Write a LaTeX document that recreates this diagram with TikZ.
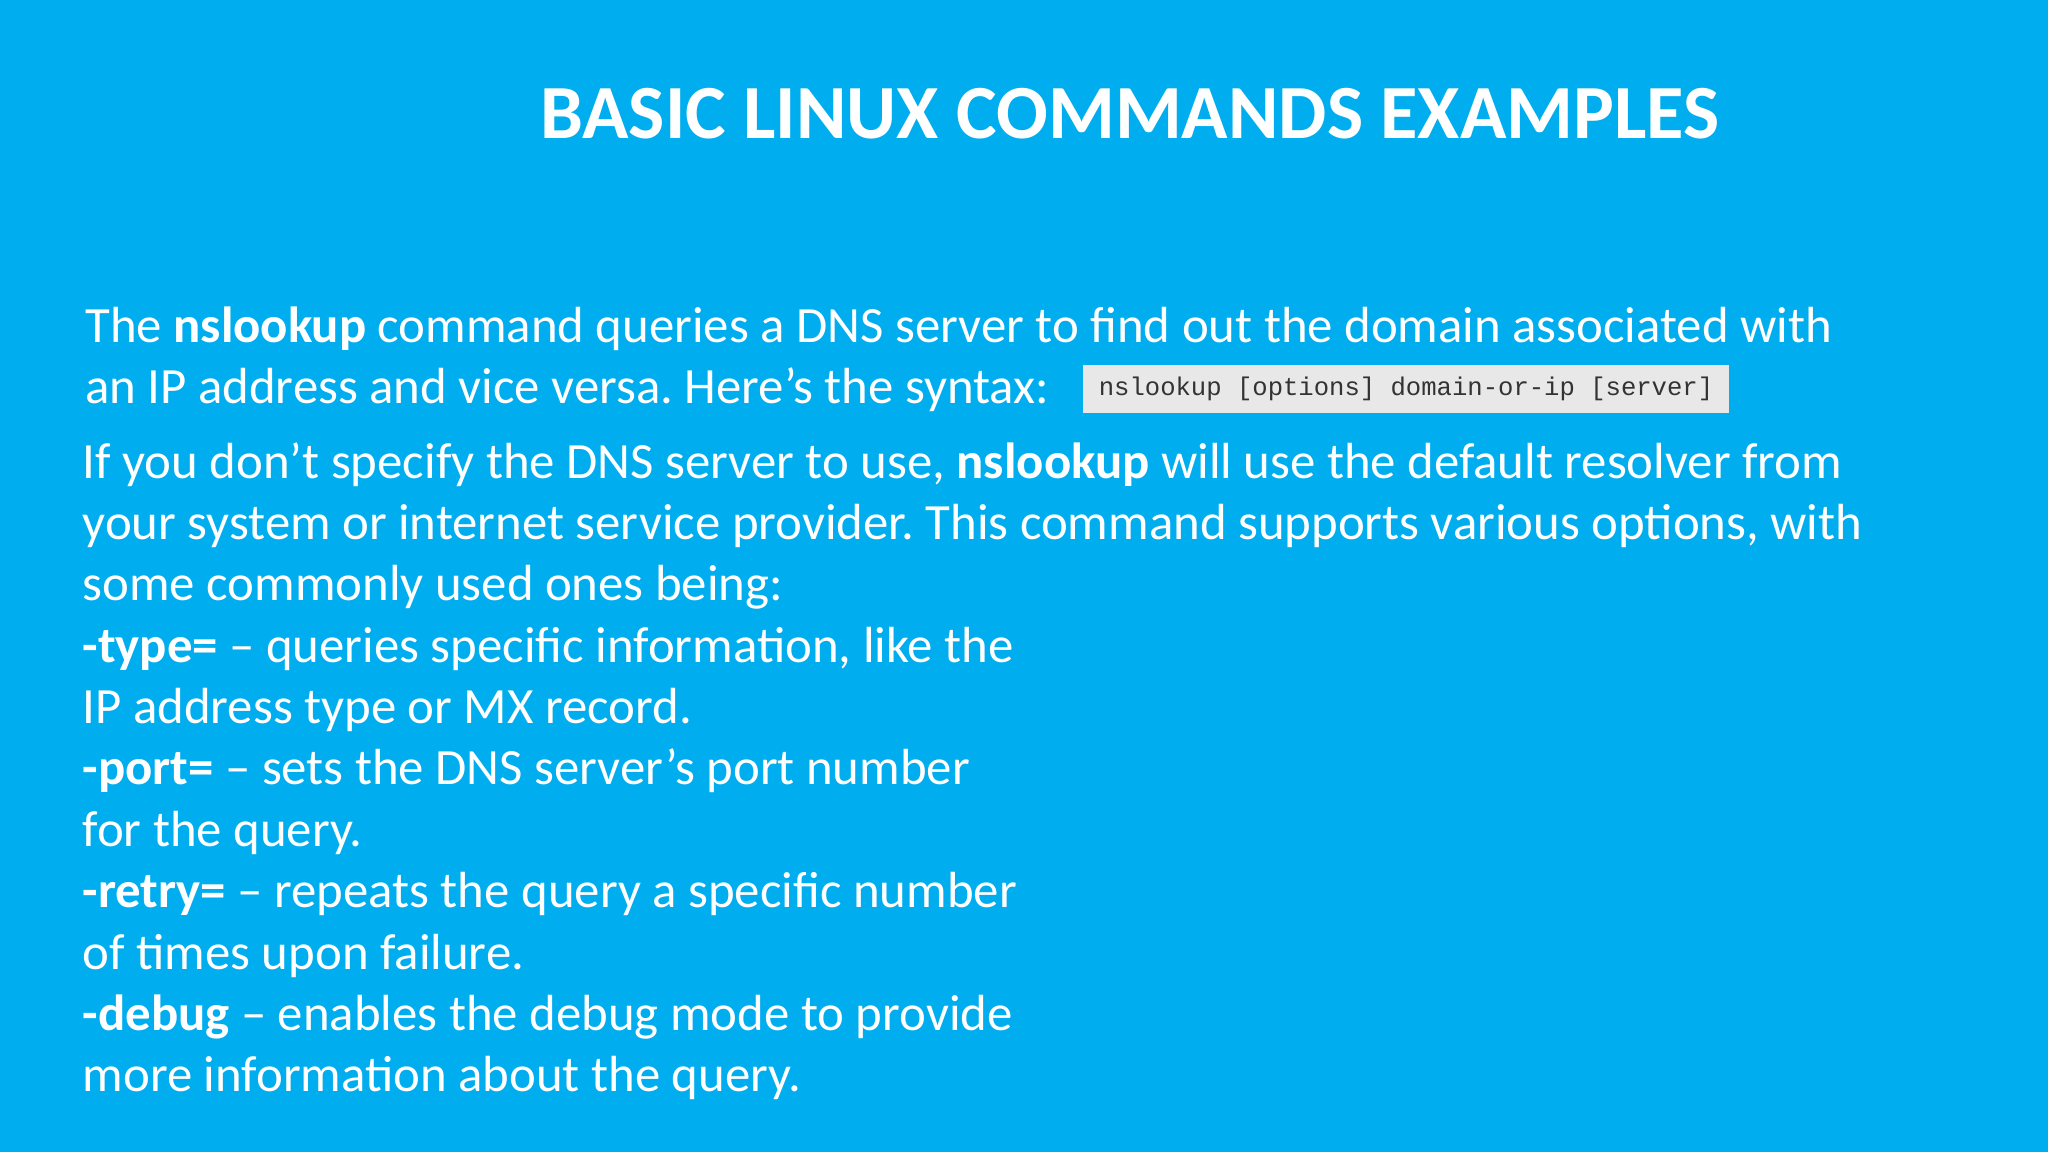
\documentclass[tikz,border=0pt]{standalone}
\usepackage{fontspec}
\setmainfont{Carlito}
\setmonofont{Liberation Mono}
\frenchspacing
\definecolor{bg}{HTML}{00AEEF}
\definecolor{codebg}{HTML}{E8E8E8}
\begin{document}
\begin{tikzpicture}[x=0.6531pt,y=-0.6531pt,
  ln/.style={anchor=base west,inner sep=0pt,text=white,font=\fontsize{25.4}{30}\selectfont}]
\fill[bg] (0,0) rectangle (1568,882);
\useasboundingbox (0,0) rectangle (1568,882);
\node[anchor=base,text=white,font=\fontsize{38.3}{46}\selectfont\bfseries] (title) at (865,106) {BASIC LINUX COMMANDS EXAMPLES};
\node[ln] (l1) at (65,262) {The \textbf{nslookup} command queries a DNS server to find out the domain associated with};
\node[ln] (l2) at (65,309) {an IP address and vice versa. Here’s the syntax:};
\node[fill=codebg,minimum width=494*0.6531pt,minimum height=37*0.6531pt,inner sep=0pt,font=\fontsize{12.8}{14}\ttfamily,text=black!80] (code) at (1076.5,298) {nslookup [options] domain-or-ip [server]};
\node[ln] (l3) at (63,366) {If you don’t specify the DNS server to use, \textbf{nslookup} will use the default resolver from};
\node[ln] (l4) at (63,413) {your system or internet service provider. This command supports various options, with};
\node[ln] (l5) at (63,460) {some commonly used ones being:};
\node[ln] (l6) at (63,507) {\textbf{-type=} – queries specific information, like the};
\node[ln] (l7) at (63,554) {IP address type or MX record.};
\node[ln] (l8) at (63,601) {\textbf{-port=} – sets the DNS server’s port number};
\node[ln] (l9) at (63,648) {for the query.};
\node[ln] (l10) at (63,695) {\textbf{-retry=} – repeats the query a specific number};
\node[ln] (l11) at (63,742) {of times upon failure.};
\node[ln] (l12) at (63,789) {\textbf{-debug} – enables the debug mode to provide};
\node[ln] (l13) at (63,836) {more information about the query.};
\end{tikzpicture}
\end{document}
